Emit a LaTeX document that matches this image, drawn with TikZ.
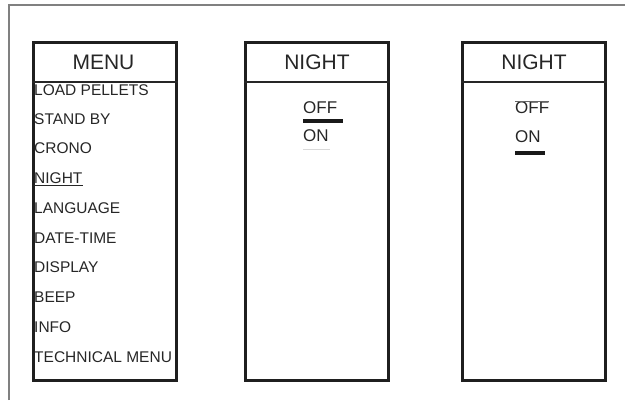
\documentclass[tikz,border=0pt]{standalone}
\usepackage{fontspec}
\setmainfont{Liberation Sans}
\begin{document}
\begin{tikzpicture}[x=1pt,y=-1pt,
  panel/.style={draw=black!88, line width=3pt, inner sep=0, anchor=north west, minimum width=143pt, minimum height=338pt},
  divider/.style={draw=black!85, line width=1.5pt},
  item/.style={anchor=west, inner sep=0, font=\fontsize{15.5}{18}\selectfont, text=black!85},
  head/.style={inner sep=0, font=\fontsize{21}{24}\selectfont, text=black!85},
  opt/.style={anchor=west, inner sep=0, font=\fontsize{17}{20}\selectfont, text=black!85},
  sel/.style={draw=black!90, line width=4pt}]
\useasboundingbox (0,0) rectangle (625,400);
\draw[gray, line width=1.5pt] (9,400) -- (9,5) -- (625,5);

\node[panel] (menu) at (32,41) {};
\node[panel] (night1) at (244,41) {};
\node[panel] (night2) at (461,41) {};
\foreach \b in {menu,night1,night2}
  \draw[divider] ([yshift=-41pt]\b.north west) -- ([yshift=-41pt]\b.north east);

\node[head] (mhead) at (103.5,62) {MENU};
\node[head] (n1head) at (317,62) {NIGHT};
\node[head] (n2head) at (534,62) {NIGHT};

\node[item] (i1) at (34,90) {LOAD PELLETS};
\node[item] (i2) at (34,119.5) {STAND BY};
\node[item] (i3) at (34,148) {CRONO};
\node[item] (i4) at (34,178) {NIGHT};
\node[item] (i5) at (34,208) {LANGUAGE};
\node[item] (i6) at (34,238) {DATE-TIME};
\node[item] (i7) at (34,267) {DISPLAY};
\node[item] (i8) at (34,297) {BEEP};
\node[item] (i9) at (34,327) {INFO};
\node[item] (i10) at (34,357) {TECHNICAL MENU};
\draw[black!85, line width=0.8pt] ([yshift=-2pt]i4.south west) -- ([yshift=-2pt]i4.south east);

\node[opt] (off1) at (303,108) {OFF};
\node[opt] (on1) at (303,136) {ON};
\draw[sel] (303,121) -- (343,121);
\draw[black!15, line width=1pt] (303,149) -- (330,149);

\node[opt] (off2) at (515,108) {OFF};
\node[opt] (on2) at (515,137) {ON};
\draw[black!60, line width=0.8pt] (off2.north west) -- (off2.north east);
\draw[sel] (515,153) -- (545,153);
\end{tikzpicture}
\end{document}
